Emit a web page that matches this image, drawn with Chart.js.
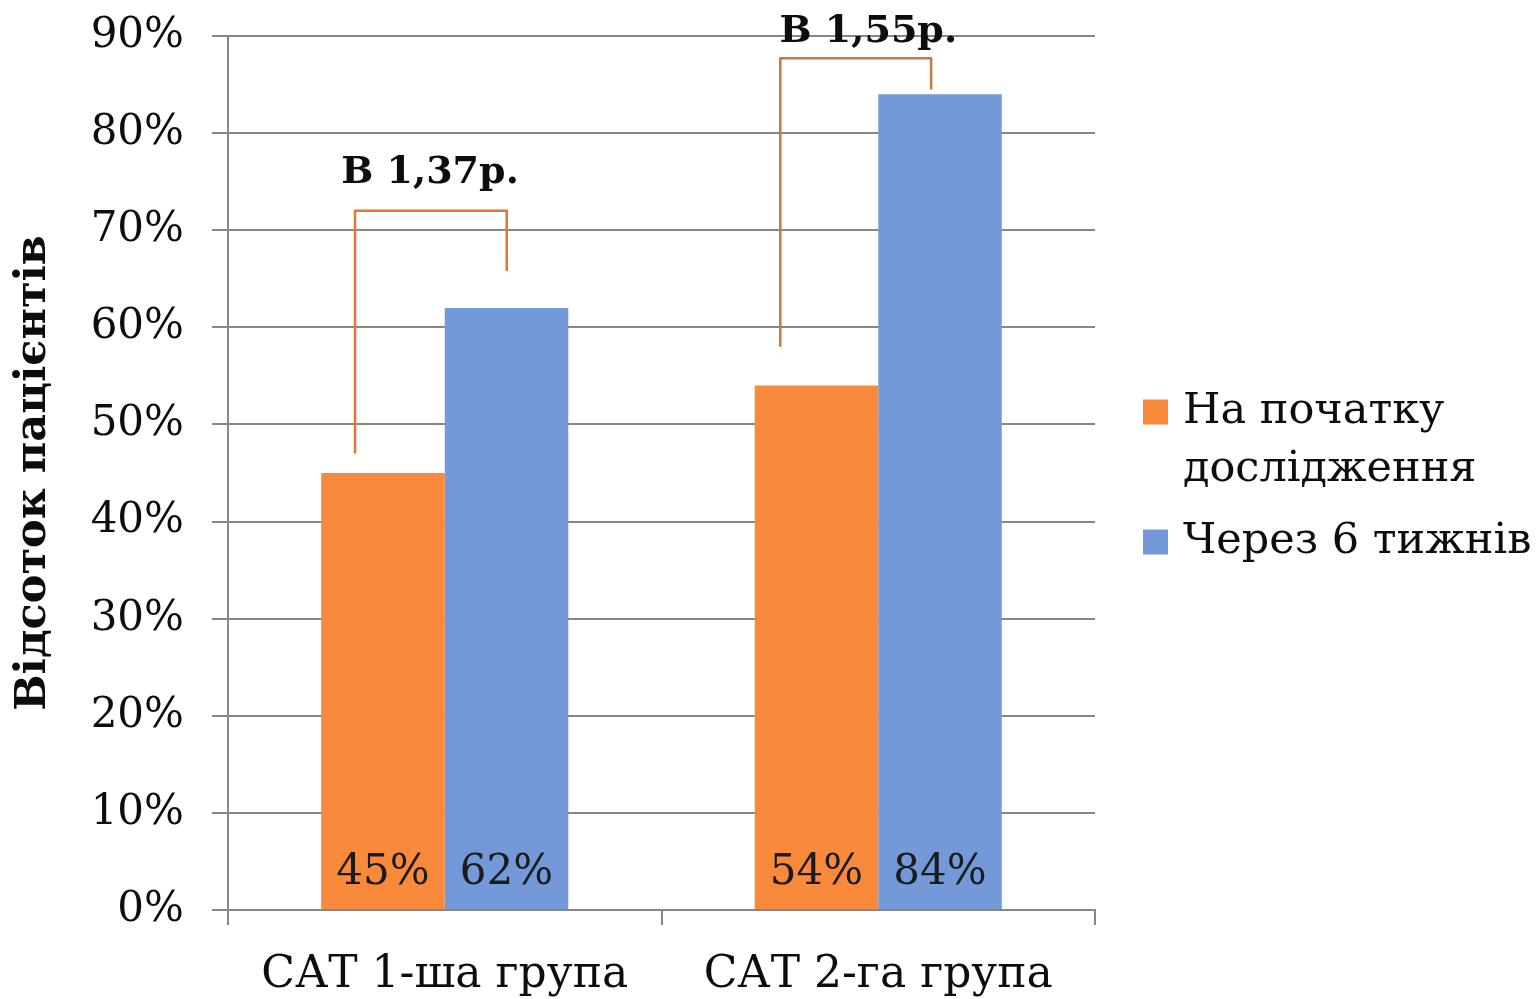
<!DOCTYPE html>
<html lang="uk">
<head>
<meta charset="utf-8">
<title>Відсоток пацієнтів</title>
<script src="https://cdn.jsdelivr.net/npm/chart.js@4/dist/chart.umd.min.js"></script>
<style>
  html, body { margin: 0; padding: 0; background: #ffffff; }
  canvas { display: block; }
</style>
</head>
<body>
<canvas id="chart" width="1538" height="999"></canvas>
<script>
// Groups on the category axis
const categories = ['САТ 1-ша група', 'САТ 2-га група'];

// Series names (legend lines) and their values, %
const seriesNames = [['На початку', 'дослідження'], ['Через 6 тижнів']];
const baselineValues = [45, 54];
const sixWeekValues = [62, 84];

// Fold-change notes above each group
const ratioLabels = ['В 1,37р.', 'В 1,55р.'];

// Value axis
const yMin = 0;
const yMax = 90;
const yStep = 10;

const FONT = "'DejaVu Serif', 'Liberation Serif', serif";
const GRID = '#878787';
const ORANGE = '#F98A3B';
const BLUE = '#7399D8';
const INK = '#0d0d0d';

// Geometry of the brackets, in category widths (x) and axis values (y)
const bracketLayout = [
  { left: -0.207, right: 0.143, leftEnd: 47, top: 72, rightEnd: 65.8,
    color: '#E2772F', labelX: -0.034, labelY: 75.9 },
  { left: -0.226, right: 0.122, leftEnd: 58, top: 87.7, rightEnd: 84.5,
    color: '#C57A45', labelX: -0.023, labelY: 90.4 }
];

// Value text near the bottom of every bar
const barValueLabels = {
  id: 'barValueLabels',
  afterDatasetsDraw(chart) {
    const ctx = chart.ctx;
    const yScale = chart.scales.y;
    ctx.save();
    ctx.font = '42px ' + FONT;
    ctx.fillStyle = '#1b1b1b';
    ctx.textAlign = 'center';
    ctx.textBaseline = 'middle';
    chart.data.datasets.forEach((ds, di) => {
      chart.getDatasetMeta(di).data.forEach((bar, i) => {
        ctx.fillText(ds.data[i] + '%', bar.x, yScale.bottom - 37);
      });
    });
    ctx.restore();
  }
};

// Brackets joining the two bars of a group, with the ratio above
const ratioBrackets = {
  id: 'ratioBrackets',
  afterDatasetsDraw(chart) {
    const ctx = chart.ctx;
    const xs = chart.scales.x;
    const ys = chart.scales.y;
    const catW = (xs.right - xs.left) / categories.length;
    ctx.save();
    categories.forEach((c, i) => {
      const b = bracketLayout[i];
      const cx = xs.getPixelForValue(i);
      const xl = cx + b.left * catW;
      const xr = cx + b.right * catW;
      ctx.strokeStyle = b.color;
      ctx.lineWidth = 2.5;
      ctx.lineJoin = 'round';
      ctx.beginPath();
      ctx.moveTo(xl, ys.getPixelForValue(b.leftEnd));
      ctx.lineTo(xl, ys.getPixelForValue(b.top));
      ctx.lineTo(xr, ys.getPixelForValue(b.top));
      ctx.lineTo(xr, ys.getPixelForValue(b.rightEnd));
      ctx.stroke();
      ctx.font = 'bold 38px ' + FONT;
      ctx.fillStyle = INK;
      ctx.textAlign = 'center';
      ctx.textBaseline = 'middle';
      ctx.fillText(ratioLabels[i], cx + b.labelX * catW, ys.getPixelForValue(b.labelY));
    });
    ctx.restore();
  }
};

// Legend on the right, with wrapped series names
const sideLegend = {
  id: 'sideLegend',
  afterDraw(chart) {
    const ctx = chart.ctx;
    const area = chart.chartArea;
    const box = 25;
    const lineH = 58;
    const itemGap = 14;
    const x0 = area.right + 48;
    const tx = x0 + box + 15;
    const total = seriesNames.reduce((s, n) => s + n.length * lineH, 0) + itemGap * (seriesNames.length - 1);
    let y = (area.top + area.bottom) / 2 - total / 2 + 4;
    ctx.save();
    ctx.font = '43px ' + FONT;
    ctx.textAlign = 'left';
    ctx.textBaseline = 'middle';
    chart.data.datasets.forEach((ds, di) => {
      const lines = seriesNames[di];
      const cy = y + lineH / 2;
      ctx.fillStyle = ds.backgroundColor;
      ctx.fillRect(x0, cy - box / 2, box, box);
      ctx.fillStyle = INK;
      lines.forEach((ln, k) => ctx.fillText(ln, tx, cy + k * lineH));
      y += lines.length * lineH + itemGap;
    });
    ctx.restore();
  }
};

new Chart(document.getElementById('chart'), {
  type: 'bar',
  data: {
    labels: categories,
    datasets: [
      { label: seriesNames[0].join(' '), data: baselineValues, backgroundColor: ORANGE,
        categoryPercentage: 0.57, barPercentage: 1.0 },
      { label: seriesNames[1].join(' '), data: sixWeekValues, backgroundColor: BLUE,
        categoryPercentage: 0.57, barPercentage: 1.0 }
    ]
  },
  options: {
    responsive: false,
    animation: false,
    devicePixelRatio: 1,
    layout: { padding: { top: 36, right: 443, bottom: 0, left: 0 } },
    plugins: {
      legend: { display: false },
      tooltip: { enabled: false }
    },
    scales: {
      x: {
        grid: { display: true, drawOnChartArea: false, drawTicks: true, tickLength: 15,
                color: GRID, lineWidth: 2, offset: true },
        border: { color: GRID, width: 2 },
        ticks: { font: { family: FONT, size: 44 }, color: INK, padding: 24 },
        afterFit(scale) {
          scale.height = 89;
          scale.paddingLeft = 0;
          scale.paddingRight = 0;
        }
      },
      y: {
        min: yMin,
        max: yMax,
        ticks: {
          stepSize: yStep,
          font: { family: FONT, size: 42 },
          color: INK,
          padding: 28,
          callback: v => v + '%'
        },
        grid: { color: GRID, lineWidth: 2, tickLength: 16 },
        border: { color: GRID, width: 2 },
        title: {
          display: true,
          text: 'Відсоток пацієнтів',
          font: { family: FONT, size: 43, weight: 'bold' },
          color: INK,
          padding: { top: 8, bottom: 0 }
        },
        afterFit(scale) {
          scale.width = 228;
          scale.paddingTop = 0;
          scale.paddingBottom = 0;
        }
      }
    }
  },
  plugins: [barValueLabels, ratioBrackets, sideLegend]
});
</script>
</body>
</html>
